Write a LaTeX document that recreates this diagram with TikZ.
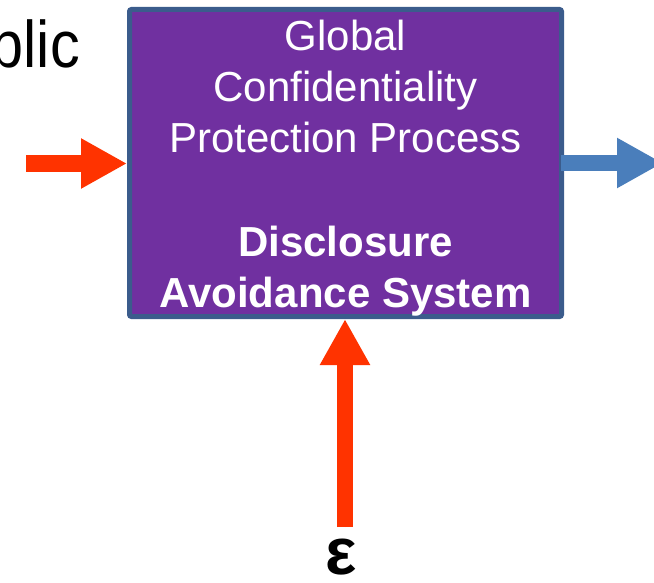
\documentclass[tikz,border=0pt]{standalone}
\usepackage{fontspec}
\setmainfont{Liberation Sans}
\usetikzlibrary{arrows.meta}
\definecolor{boxfill}{HTML}{7030A0}
\definecolor{boxline}{HTML}{3B5C8C}
\definecolor{flowred}{HTML}{FF3300}
\definecolor{flowblue}{HTML}{4A7EBB}
\tikzset{
  x=1pt, y=1pt,
  processbox/.style={draw=boxline, fill=boxfill, line width=5pt, rounded corners=2pt,
    minimum width=432pt, minimum height=307pt, inner sep=0pt},
  boxline1/.style={anchor=base, inner sep=0pt, text=white,
    font=\fontsize{42}{51}\selectfont},
  boxline2/.style={boxline1, font=\fontsize{42}{51}\selectfont\bfseries},
  blockarrow/.style={line width=17pt, line cap=butt,
    -{Triangle[length=46pt, width=47pt]}},
}
\begin{document}
\begin{tikzpicture}
\useasboundingbox (0,0) rectangle (654,-583);
\clip (0,0) rectangle (654,-583);

% partial word at the upper left
\node[anchor=base east, inner sep=0pt] (pub) at (80,-68)
  {\scalebox{0.9}[1]{\fontsize{66}{70}\selectfont Public}};

% the process box
\node[processbox] (dps) at (345.5,-163) {};
\node[boxline1] (t1) at (345.5,-51) {Global};
\node[boxline1] (t2) at (345.5,-102) {Confidentiality};
\node[boxline1] (t3) at (345.5,-153) {Protection Process};
\node[boxline2] (t4) at (345.5,-256) {Disclosure};
\node[boxline2] (t5) at (345.5,-307) {Avoidance System};

% privacy parameter
\node[anchor=base, inner sep=0pt, font=\fontsize{66}{70}\selectfont\bfseries] (eps) at (341.5,-574) {ε};

% flows
\coordinate (inL) at (26,-163.5);
\coordinate (outR) at (663,-163);
\coordinate (inB) at (345,-527);
\draw[blockarrow, draw=flowred, fill=flowred] (inL) -- (dps.west |- inL);
\draw[blockarrow, line width=16pt, draw=flowblue, fill=flowblue] ([xshift=-3pt]dps.east |- outR) -- (outR);
\draw[blockarrow, line width=16pt, draw=flowred, fill=flowred] (inB) -- (inB |- dps.south);
\end{tikzpicture}
\end{document}
